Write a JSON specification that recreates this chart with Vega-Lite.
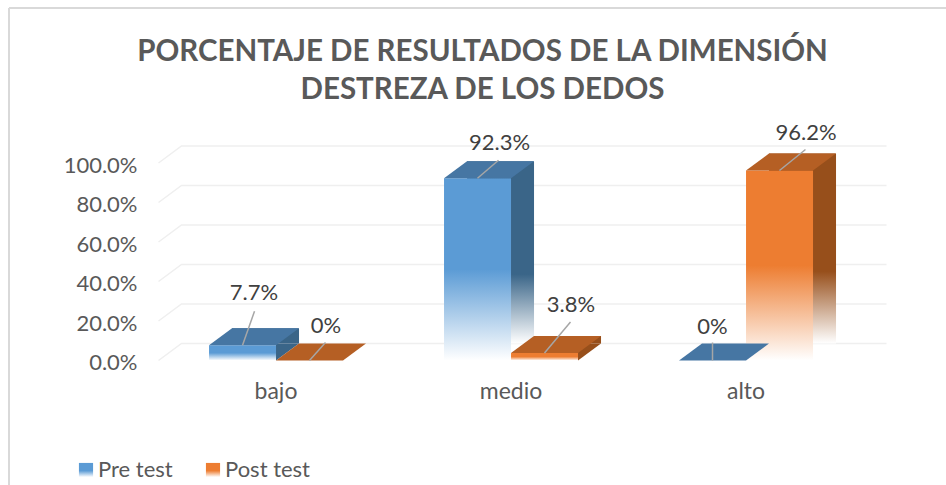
{
"$schema":"https://vega.github.io/schema/vega-lite/v6.json",
"width":705,"height":197.5,
"autosize":{"type":"none"},
"padding":{"left":158.5,"top":163,"right":82.5,"bottom":124.5},
"background":"white",
"config":{"view":{"stroke":null},"font":"Lato","axis":{"labelOverlap":false,"labelBound":false,"labelFlush":false}},
"title":{"text":["PORCENTAJE DE RESULTADOS DE LA DIMENSIÓN","DESTREZA DE LOS DEDOS"],"font":"Lato","fontSize":29.5,"fontWeight":"bold","color":"#595959","anchor":"middle","frame":"group","dx":-28.5,"dy":98,"offset":0,"lineHeight":38},
"datasets":{
"barras":[
{"categoria":"bajo","serie":"Pre test","valor":0.077,"etiqueta":"7.7%"},
{"categoria":"bajo","serie":"Post test","valor":0,"etiqueta":"0%"},
{"categoria":"medio","serie":"Pre test","valor":0.923,"etiqueta":"92.3%"},
{"categoria":"medio","serie":"Post test","valor":0.038,"etiqueta":"3.8%"},
{"categoria":"alto","serie":"Pre test","valor":0,"etiqueta":"0% "},
{"categoria":"alto","serie":"Post test","valor":0.962,"etiqueta":"96.2%"}
],
"marcas":[{"marca":0},{"marca":0.2},{"marca":0.4},{"marca":0.6},{"marca":0.8},{"marca":1}]
},
"resolve":{"axis":{"y":"independent"}},
"layer":[
{"data":{"values":[{}]},"mark":{"type":"rule","stroke":"#d9d9d9","strokeWidth":2},"encoding":{"x":{"value":-149.5},"y":{"value":-155},"y2":{"value":322}}},
{"data":{"values":[{}]},"mark":{"type":"rule","stroke":"#d9d9d9","strokeWidth":2},"encoding":{"x":{"value":-149.5},"x2":{"value":788},"y":{"value":-155}}},
{"data":{"name":"marcas"},"mark":{"type":"point","filled":false,"opacity":1,"stroke":"#efefef","strokeWidth":1.5,"size":4,"shape":"M-352.5,0L-329.5,-17L375.5,-17"},"encoding":{"y":{"field":"marca","type":"quantitative","scale":{"domain":[0,1]},
"axis":{"values":[0,0.2,0.4,0.6,0.8,1],"format":".1%","domain":false,"ticks":false,"grid":false,"title":null,"labelOverlap":false,"labelFont":"Lato","labelFontSize":22,"labelColor":"#595959","labelPadding":21.5,"labelOffset":2}}}},
{"data":{"name":"barras"},
"encoding":{
"x":{"field":"categoria","type":"nominal","sort":["bajo","medio","alto"],"scale":{"paddingInner":0.43,"paddingOuter":0.215},"axis":{"domain":false,"ticks":false,"title":null,"labelAngle":0,"labelFont":"Lato","labelFontSize":23,"labelColor":"#595959","labelPadding":20}},
"y":{"field":"valor","type":"quantitative","stack":null,"axis":null}
},
"layer":[
{"transform":[{"filter":"datum.valor>=0.5 && datum.serie=='Pre test'"}],
"mark":{"type":"bar","yOffset":-17,"y2Offset":-17,"color":{"gradient":"linear","x1":0,"y1":0,"x2":0,"y2":1,"stops":[{"offset":0,"color":"#3a6588"},{"offset":0.62,"color":"#3a6588"},{"offset":1,"color":"#ffffff"}]}},
"encoding":{
"xOffset":{"field":"serie","sort":["Pre test","Post test"],"scale":{"domain":["Pre test","Post test"],"range":[23,157]}},
"y2":{"datum":0}
}},
{"transform":[{"filter":"datum.valor>=0.5 && datum.serie=='Post test'"}],
"mark":{"type":"bar","yOffset":-17,"y2Offset":-17,"color":{"gradient":"linear","x1":0,"y1":0,"x2":0,"y2":1,"stops":[{"offset":0,"color":"#974f1b"},{"offset":0.62,"color":"#974f1b"},{"offset":1,"color":"#ffffff"}]}},
"encoding":{
"xOffset":{"field":"serie","sort":["Pre test","Post test"],"scale":{"domain":["Pre test","Post test"],"range":[23,157]}},
"y2":{"datum":0}
}},
{"transform":[{"filter":"datum.valor>0 && datum.valor<0.5"}],
"mark":{"type":"bar","yOffset":-17,"y2Offset":-17},
"encoding":{
"xOffset":{"field":"serie","sort":["Pre test","Post test"],"scale":{"domain":["Pre test","Post test"],"range":[23,157]}},
"y2":{"datum":0},
"color":{"field":"serie","legend":null,"scale":{"domain":["Pre test","Post test"],"range":["#3a6588","#974f1b"]}}
}},
{"transform":[{"filter":"datum.valor>0 && datum.valor<0.5"}],
"mark":{"type":"point","filled":true,"opacity":1,"size":4,"shape":"M33.5,0L56.5,-17L33.5,-17Z"},
"encoding":{
"xOffset":{"field":"serie","sort":["Pre test","Post test"]},
"y":{"datum":0,"axis":null},
"color":{"field":"serie","legend":null,"scale":{"domain":["Pre test","Post test"],"range":["#3a6588","#974f1b"]}}
}},
{"mark":{"type":"point","filled":true,"opacity":1,"size":0},
"encoding":{
"xOffset":{"field":"serie","sort":["Pre test","Post test"]},
"shape":{"field":"serie","scale":{"domain":["Pre test","Post test"],"range":["square","square"]},
"legend":{"title":null,"orient":"none","legendX":-83.5,"legendY":296,"direction":"horizontal","symbolSize":200,"symbolStrokeWidth":0,"labelFont":"Lato","labelFontSize":22,"labelColor":"#595959","labelOffset":1,"columnPadding":29,
"encoding":{"symbols":{"fill":{"condition":{"test":"datum.value=='Pre test'","value":{"gradient":"linear","x1":0,"y1":0,"x2":0,"y2":1,"stops":[{"offset":0,"color":"#5b9bd5"},{"offset":0.55,"color":"#5b9bd5"},{"offset":1,"color":"#ffffff"}]}},"value":{"gradient":"linear","x1":0,"y1":0,"x2":0,"y2":1,"stops":[{"offset":0,"color":"#ed7d31"},{"offset":0.55,"color":"#ed7d31"},{"offset":1,"color":"#ffffff"}]}}}}}}
}},
{"transform":[{"filter":"datum.valor>0 && datum.serie=='Pre test'"}],
"mark":{"type":"bar","color":{"gradient":"linear","x1":0,"y1":0,"x2":0,"y2":1,"stops":[{"offset":0,"color":"#5b9bd5"},{"offset":0.5,"color":"#5b9bd5"},{"offset":1,"color":"#ffffff"}]}},
"encoding":{
"xOffset":{"field":"serie","sort":["Pre test","Post test"],"scale":{"domain":["Pre test","Post test"],"range":[0,134]}},
"y2":{"datum":0}
}},
{"transform":[{"filter":"datum.valor>0 && datum.serie=='Post test'"}],
"mark":{"type":"bar","color":{"gradient":"linear","x1":0,"y1":0,"x2":0,"y2":1,"stops":[{"offset":0,"color":"#ed7d31"},{"offset":0.5,"color":"#ed7d31"},{"offset":1,"color":"#ffffff"}]}},
"encoding":{
"xOffset":{"field":"serie","sort":["Pre test","Post test"],"scale":{"domain":["Pre test","Post test"],"range":[0,134]}},
"y2":{"datum":0}
}},
{"mark":{"type":"point","filled":true,"opacity":1,"size":4,"shape":"M-33.5,0L-10.5,-17L56.5,-17L33.5,0Z"},
"encoding":{
"xOffset":{"field":"serie","sort":["Pre test","Post test"]},
"color":{"field":"serie","legend":null,"scale":{"domain":["Pre test","Post test"],"range":["#4676a3","#b55f24"]}}
}},
{"mark":{"type":"point","filled":false,"opacity":1,"size":4,"stroke":"#a6a6a6","strokeWidth":1.5},
"encoding":{
"xOffset":{"field":"serie","sort":["Pre test","Post test"]},
"shape":{"field":"etiqueta","legend":null,"scale":{"domain":["7.7%","0%","92.3%","3.8%","0% ","96.2%"],"range":["M0,0L12,-34","M0,0L16,-18","M0,0L21,-18","M0,0L26,-31","M0,0L0,-18","M0,0L26,-21"]}}
}},
{"transform":[{"filter":"datum.etiqueta=='7.7%'"}],"mark":{"type":"text","dx":11.5,"dy":-52,"font":"Lato","fontSize":22,"color":"#404040"},"encoding":{"xOffset":{"field":"serie","sort":["Pre test","Post test"],"scale":{"domain":["Pre test","Post test"]}},"text":{"field":"etiqueta"}}},
{"transform":[{"filter":"datum.etiqueta=='0%'"}],"mark":{"type":"text","dx":16.5,"dy":-35,"font":"Lato","fontSize":22,"color":"#404040"},"encoding":{"xOffset":{"field":"serie","sort":["Pre test","Post test"],"scale":{"domain":["Pre test","Post test"]}},"text":{"field":"etiqueta"}}},
{"transform":[{"filter":"datum.etiqueta=='92.3%'"}],"mark":{"type":"text","dx":22,"dy":-35,"font":"Lato","fontSize":22,"color":"#404040"},"encoding":{"xOffset":{"field":"serie","sort":["Pre test","Post test"],"scale":{"domain":["Pre test","Post test"]}},"text":{"field":"etiqueta"}}},
{"transform":[{"filter":"datum.etiqueta=='3.8%'"}],"mark":{"type":"text","dx":26.5,"dy":-48,"font":"Lato","fontSize":22,"color":"#404040"},"encoding":{"xOffset":{"field":"serie","sort":["Pre test","Post test"],"scale":{"domain":["Pre test","Post test"]}},"text":{"field":"etiqueta"}}},
{"transform":[{"filter":"datum.etiqueta=='0% '"}],"mark":{"type":"text","dx":0,"dy":-34,"font":"Lato","fontSize":22,"color":"#404040"},"encoding":{"xOffset":{"field":"serie","sort":["Pre test","Post test"],"scale":{"domain":["Pre test","Post test"]}},"text":{"field":"etiqueta"}}},
{"transform":[{"filter":"datum.etiqueta=='96.2%'"}],"mark":{"type":"text","dx":26.5,"dy":-38,"font":"Lato","fontSize":22,"color":"#404040"},"encoding":{"xOffset":{"field":"serie","sort":["Pre test","Post test"],"scale":{"domain":["Pre test","Post test"]}},"text":{"field":"etiqueta"}}}
],
"resolve":{"scale":{"xOffset":"independent","color":"independent","shape":"independent"}}
}
]
}
